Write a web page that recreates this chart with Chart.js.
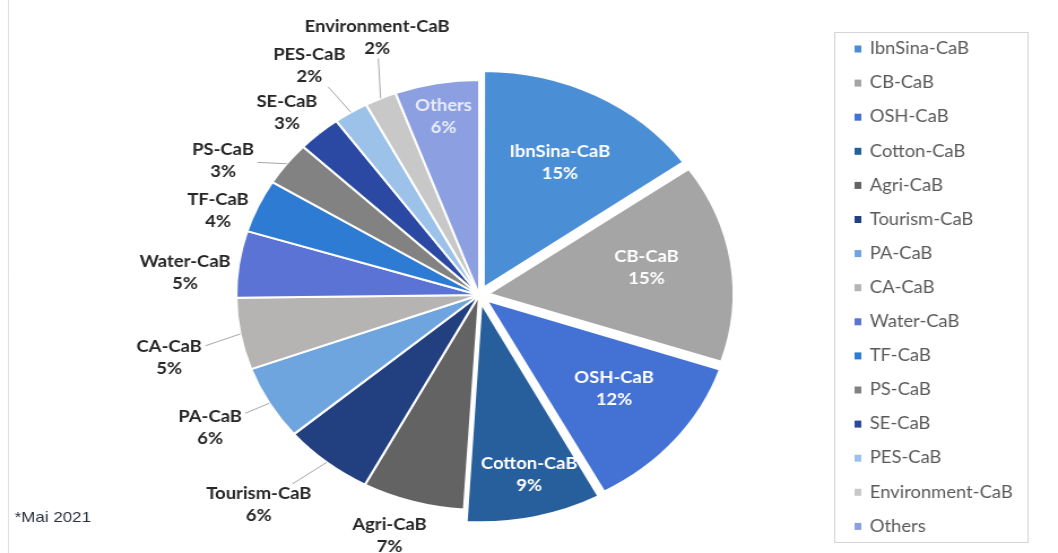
<!DOCTYPE html>
<html>
<head>
<meta charset="utf-8">
<script src="https://cdn.jsdelivr.net/npm/chart.js@4.4.0/dist/chart.umd.min.js"></script>
<style>
    html, body { margin: 0; padding: 0; background: #fff; overflow: hidden; }
    #wrap { position: relative; width: 1058px; height: 553px; }
    /* the source picture is stretched sideways, so stretch the canvas the same way */
    #chart { position: absolute; left: 0; top: 0; transform-origin: 0 0; transform: scaleX(1.1303); }
</style>
</head>
<body>
<div id="wrap"><canvas id="chart" width="936" height="553"></canvas></div>
<script>
const labels = ['IbnSina-CaB', 'CB-CaB', 'OSH-CaB', 'Cotton-CaB', 'Agri-CaB', 'Tourism-CaB', 'PA-CaB',
    'CA-CaB', 'Water-CaB', 'TF-CaB', 'PS-CaB', 'SE-CaB', 'PES-CaB', 'Environment-CaB', 'Others'];
const shares = [15.2, 14.9, 12.0, 8.9, 6.8, 6.0, 5.6, 5.4, 5.0, 4.0, 3.3, 2.9, 2.3, 2.1, 5.6];
const colors = ['#4a8ed6', '#a5a5a5', '#4472d4', '#265f9c', '#636363', '#223f7f', '#6fa5df',
    '#b6b3b3', '#5b73d4', '#2d7bd3', '#828282', '#2b49a3', '#9cc2ea', '#c8c8c8', '#8c9fe0'];
const pulledOut = ['IbnSina-CaB', 'CB-CaB', 'OSH-CaB', 'Cotton-CaB'];
const footnote = '*Mai 2021';

// label placement: [angle nudge in degrees, distance as share of radius, inside?, leader line?]
const labelPlacement = {
    'IbnSina-CaB': [1, 0.66, true, false],
    'CB-CaB': [-2, 0.66, true, false],
    'OSH-CaB': [-2, 0.665, true, false],
    'Cotton-CaB': [-1.5, 0.82, true, false],
    'Agri-CaB': [2.4, 1.18, false, false],
    'Tourism-CaB': [4, 1.333, false, true],
    'PA-CaB': [1.1, 1.268, false, true],
    'CA-CaB': [-2.5, 1.309, false, true],
    'Water-CaB': [-3.5, 1.215, false, false],
    'TF-CaB': [-4.5, 1.144, false, false],
    'PS-CaB': [-7, 1.225, false, true],
    'SE-CaB': [-1.8, 1.16, false, true],
    'PES-CaB': [-1.4, 1.275, false, true],
    'Environment-CaB': [4.6, 1.269, false, true],
    'Others': [0, 0.84, true, false]
};

const sliceLabels = {
    id: 'sliceLabels',
    afterDatasetsDraw(chart) {
        const ctx = chart.ctx;
        const meta = chart.getDatasetMeta(0);
        const total = shares.reduce((a, b) => a + b, 0);
        meta.data.forEach((arc, i) => {
            const p = arc.getProps(['x', 'y', 'startAngle', 'endAngle', 'outerRadius'], true);
            const off = (arc.options.offset || 0) / 4;   // v4 moves a slice by offset / 4
            const mid = (p.startAngle + p.endAngle) / 2;
            const cx = p.x + Math.cos(mid) * off, cy = p.y + Math.sin(mid) * off;
            const name = labels[i];
            const pct = Math.round(shares[i] / total * 100) + '%';
            const [nudge, dist, inside, leader] = labelPlacement[name];
            const a = mid + nudge * Math.PI / 180;
            const lx = cx + Math.cos(a) * p.outerRadius * dist;
            const ly = cy + Math.sin(a) * p.outerRadius * dist;

            ctx.save();
            ctx.font = 'bold 16.3px Lato';
            ctx.textAlign = 'center';
            ctx.textBaseline = 'middle';
            if (inside) {
                ctx.fillStyle = name === 'Others' ? '#e9edf9' : '#ffffff';
            } else {
                if (leader) {
                    const w = Math.max(ctx.measureText(name).width, ctx.measureText(pct).width);
                    const hw = w / 2 + 3, hh = 21;
                    const sx = cx + Math.cos(mid) * p.outerRadius, sy = cy + Math.sin(mid) * p.outerRadius;
                    const dx = sx - lx, dy = sy - ly;
                    const t = Math.min(hw / Math.max(Math.abs(dx), 1e-6), hh / Math.max(Math.abs(dy), 1e-6));
                    ctx.strokeStyle = '#a6a6a6';
                    ctx.lineWidth = 1;
                    ctx.beginPath();
                    ctx.moveTo(sx, sy);
                    ctx.lineTo(lx + dx * t, ly + dy * t);
                    ctx.stroke();
                }
                ctx.fillStyle = '#262626';
            }
            ctx.fillText(name, lx, ly - 11);
            ctx.fillText(pct, lx, ly + 11);
            ctx.restore();
        });
    }
};

const boxLegend = {
    id: 'boxLegend',
    afterDraw(chart) {
        const ctx = chart.ctx;
        const ds = chart.data.datasets[0];
        ctx.save();
        ctx.strokeStyle = '#e0e0e0';
        ctx.lineWidth = 1;
        ctx.beginPath();
        ctx.moveTo(7.5, 0);
        ctx.lineTo(7.5, chart.height);
        ctx.stroke();

        ctx.strokeStyle = '#d4d4d4';
        ctx.strokeRect(738.5, 32.5, 171, 510);
        ctx.font = '16.3px Lato';
        ctx.textBaseline = 'middle';
        ctx.textAlign = 'left';
        chart.data.labels.forEach((name, i) => {
            const y = 49 + i * 34.1;
            ctx.fillStyle = ds.backgroundColor[i];
            ctx.fillRect(756, y - 3.5, 6, 7);
            ctx.fillStyle = '#595959';
            ctx.fillText(name, 769.5, y);
        });

        ctx.fillStyle = '#2b3040';
        ctx.font = '15px Arial';
        ctx.fillText(footnote, 13, 518);
        ctx.restore();
    }
};

new Chart(document.getElementById('chart'), {
    type: 'pie',
    data: {
        labels: labels,
        datasets: [{
            data: shares,
            backgroundColor: colors,
            borderColor: '#ffffff',
            borderWidth: 2,
            hoverOffset: 0,
            offset: labels.map(l => pulledOut.includes(l) ? 34 : 0)
        }]
    },
    options: {
        responsive: false,
        animation: false,
        devicePixelRatio: 1,
        layout: { padding: { top: 62, bottom: 25, left: 191, right: 279 } },
        plugins: {
            legend: { display: false },
            tooltip: { enabled: false }
        }
    },
    plugins: [sliceLabels, boxLegend]
});
</script>
</body>
</html>
